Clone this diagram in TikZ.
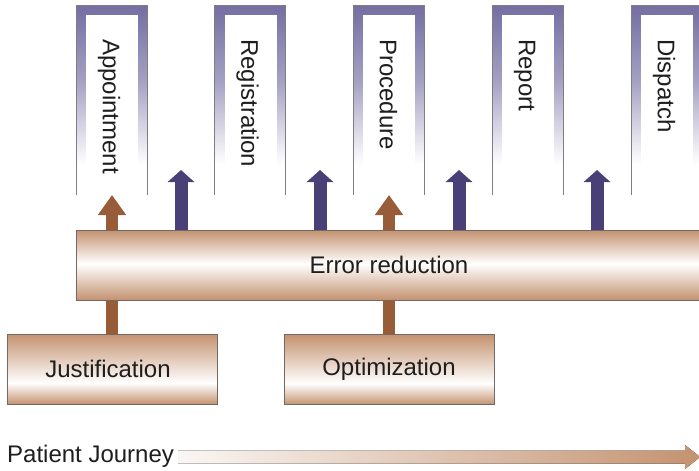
\documentclass[tikz,border=0pt]{standalone}
\usepackage{fontspec}
\setmainfont{Liberation Sans}
\usetikzlibrary{arrows.meta,calc}
\definecolor{tanc}{RGB}{196,146,112}
\definecolor{colpurple}{RGB}{116,110,162}
\definecolor{arrpurple}{RGB}{72,64,118}
\definecolor{arrbrown}{RGB}{152,92,56}
\definecolor{edgec}{RGB}{115,105,100}
\definecolor{coledgec}{RGB}{125,125,130}
\definecolor{txt}{RGB}{30,30,30}
\pgfdeclareverticalshading{barshade}{100bp}{color(0bp)=(tanc); color(25bp)=(tanc); color(51bp)=(white); color(75bp)=(tanc); color(100bp)=(tanc)}
\pgfdeclareverticalshading{boxshade}{100bp}{color(0bp)=(tanc); color(25bp)=(tanc); color(40bp)=(white); color(75bp)=(tanc); color(100bp)=(tanc)}
\pgfdeclareverticalshading{colshade}{100bp}{color(0bp)=(white); color(25bp)=(white); color(33bp)=(white); color(55bp)=(colpurple!65); color(75bp)=(colpurple); color(100bp)=(colpurple)}
\tikzset{
  column/.style={minimum width=71pt, minimum height=190pt, inner sep=0pt, outer sep=0pt,
    shading=colshade,
    path picture={\fill[white] ([xshift=10pt,yshift=-10pt]path picture bounding box.north west) rectangle ([xshift=-9pt,yshift=-2pt]path picture bounding box.south east);}},
  coledge/.style={draw=coledgec, line width=0.9pt},
  coltext/.style={rotate=-90, anchor=west, inner sep=0pt, text height=17.4pt, text depth=0pt, text=txt},
  bar/.style={shading=barshade, draw=edgec, line width=0.9pt, minimum width=626pt, minimum height=70pt, inner sep=0pt, text=txt},
  stagebox/.style={shading=boxshade, draw=edgec, line width=0.9pt, minimum width=210pt, minimum height=70pt, inner sep=0pt, text=txt},
  purplearrow/.style={arrpurple, line width=13pt, -{Triangle[width=26pt,length=12pt]}},
  brownarrow/.style={arrbrown, line width=12.5pt, -{Triangle[width=27pt,length=20pt]}},
}
\begin{document}
\begin{tikzpicture}[x=1pt,y=-1pt, font=\fontsize{24}{28}\selectfont]
\useasboundingbox (0,0) rectangle (699,471);
\clip (0,0) rectangle (699,471);
% columns
\foreach \n/\cx/\lab in {app/111.5/Appointment, reg/250/Registration, pro/388.5/Procedure, rep/527.5/Report, dis/666.5/Dispatch}{
  \node[column] (\n) at (\cx,100) {};
  \draw[coledge] (\n.south west) -- (\n.north west) -- (\n.north east) -- (\n.south east);
  \node[coltext] (\n T) at ([yshift=-34pt]\n.north) {\lab};
}
% lower boxes
\node[stagebox] (just) at (112,369) {\hspace*{-8pt}Justification};
\node[stagebox] (opt) at (389,369.5) {Optimization};
% brown arrows (behind the bar)
\draw[brownarrow] (just.north) -- (just.north |- app.south);
\draw[brownarrow] (opt.north) -- (opt.north |- pro.south);
% error reduction bar
\node[bar] (err) at (389,265) {Error reduction};
% purple arrows
\foreach \i/\px in {1/181,2/320,3/459,4/597}{
  \coordinate (p\i) at (\px,170);
  \draw[purplearrow] (err.north -| p\i) -- (p\i);
}
% patient journey
\node[anchor=west, inner sep=0pt, text height=17.4pt, text depth=0pt, text=txt] (pj) at (7,454) {Patient Journey};
\coordinate (jstart) at (178,457);
\coordinate (jend) at (700,457);
\fill[left color=tanc!8, right color=tanc]
  ($(jstart)+(0,-6.5)$) -- ($(jend)+(-15,-6.5)$) -- ($(jend)+(-15,-12)$) -- (jend)
  -- ($(jend)+(-15,12)$) -- ($(jend)+(-15,6.5)$) -- ($(jstart)+(0,6.5)$) -- cycle;
\end{tikzpicture}
\end{document}
